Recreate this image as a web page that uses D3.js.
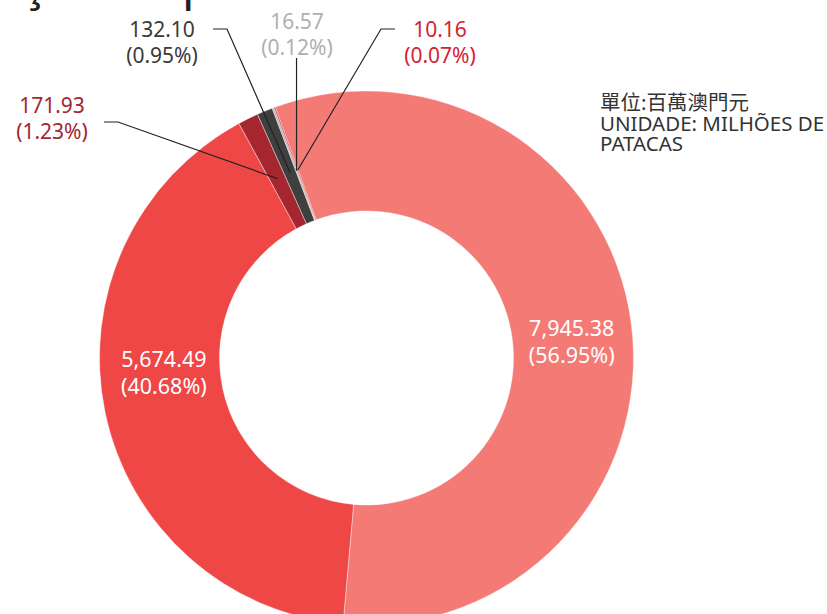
<!DOCTYPE html>
<html>
<head>
<meta charset="utf-8">
<script src="https://cdn.jsdelivr.net/npm/d3@7"></script>
<style>
  body { margin: 0; background: #fff; }
  text { font-family: "Noto Sans", "Noto Sans CJK TC", sans-serif; }
</style>
</head>
<body>
<script>
// data
const values = [7945.38, 5674.49, 171.93, 132.10, 16.57, 10.16]
const shares = ["56.95%", "40.68%", "1.23%", "0.95%", "0.12%", "0.07%"]
const colors = ["#F37A75", "#EF4646", "#A5262E", "#3F3F3F", "#B5B5B5", "#D6222F"]
const labelColors = ["#fff", "#fff", "#A5262F", "#3A3A3A", "#AFAFAF", "#D42232"]
const unitLines = ["單位:百萬澳門元", "UNIDADE: MILHÕES DE", "PATACAS"]

// callout layout for the small slices (label centre + elbow)
const callouts = [
  null, null,
  { tx: 52,  ty: 113, ex: [104, 118], ey: 122 },
  { tx: 162, ty: 37,  ex: [213, 227], ey: 29 },
  { tx: 297, ty: 29,  vertical: 58 },
  { tx: 440, ty: 37,  ex: [395, 381], ey: 29 }
]

const W = 827, H = 614
const cx = 366.5, cy = 358
const rOuter = 267, rInner = 147

const svg = d3.select("body").append("svg")
    .attr("width", W)
    .attr("height", H)

// title, cropped off the top: only descenders show
svg.append("text")
    .attr("x", -170)
    .attr("y", 0)
    .style("font-size", "48px")
    .style("fill", "#222")
    .text("Distribuição da parte")

const pie = d3.pie()
    .sort(null)
    .value(d => d)
    .startAngle(-20 * Math.PI / 180)
    .endAngle(340 * Math.PI / 180)

const arcs = pie(values)

const arc = d3.arc().innerRadius(rInner).outerRadius(rOuter)
const midArc = d3.arc().innerRadius(186).outerRadius(214)

const g = svg.append("g").attr("transform", `translate(${cx},${cy})`)

g.selectAll("path.slice")
    .data(arcs)
    .join("path")
    .attr("class", "slice")
    .attr("d", arc)
    .style("fill", (d, i) => colors[i])
    .style("stroke", "#fff")
    .style("stroke-width", 0.4)

const fmt = d3.format(",.2f")

// inside labels for the two big slices
arcs.slice(0, 2).forEach((d, i) => {
    let c = arc.centroid(d)
    let t = g.append("text")
        .attr("text-anchor", "middle")
        .style("font-size", "21.5px")
        .style("fill", labelColors[i])
    t.append("tspan").attr("x", c[0]).attr("y", c[1] * 0.45 - 10).text(fmt(d.data))
    t.append("tspan").attr("x", c[0]).attr("y", c[1] * 0.45 + 17).text("(" + shares[i] + ")")
})

// callout labels
const line = d3.line()
arcs.forEach((d, i) => {
    let co = callouts[i]
    if (!co) return
    let c = midArc.centroid(d)
    let end = [c[0] + cx, c[1] + cy]
    let pts
    if (co.vertical) pts = [[end[0], co.vertical], end]
    else pts = [[co.ex[0], co.ey], [co.ex[1], co.ey], end]
    svg.append("path")
        .attr("d", line(pts))
        .style("fill", "none")
        .style("stroke", "#222")
        .style("stroke-width", 1.2)

    let t = svg.append("text")
        .attr("text-anchor", "middle")
        .style("font-size", "21px")
        .style("fill", labelColors[i])
    t.append("tspan").attr("x", co.tx).attr("y", co.ty).text(fmt(d.data))
    t.append("tspan").attr("x", co.tx).attr("y", co.ty + 26).text("(" + shares[i] + ")")
})

// unit note
svg.append("text")
    .style("font-size", "20.5px")
    .style("fill", "#333")
    .selectAll("tspan")
    .data(unitLines)
    .join("tspan")
    .attr("x", 600)
    .attr("y", (d, i) => 110 + i * 20.5)
    .text(d => d)
</script>
</body>
</html>
